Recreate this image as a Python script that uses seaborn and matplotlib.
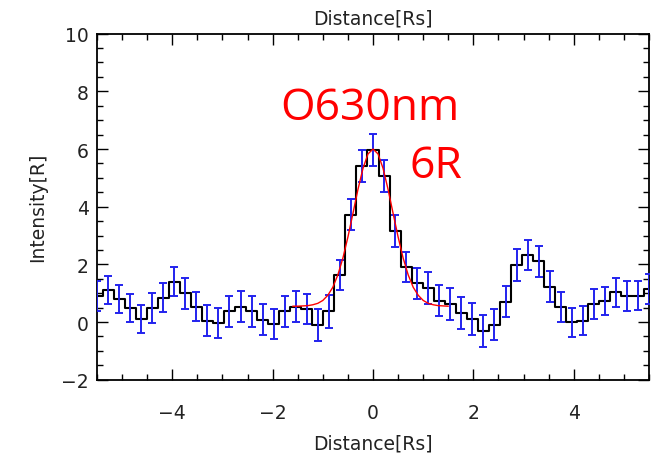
import numpy as np
import pandas as pd
import matplotlib
matplotlib.use("Agg")
import matplotlib.pyplot as plt
import seaborn as sns
from matplotlib.ticker import MultipleLocator

# Bin centres [Rs]
distance = [-5.50, -5.28, -5.06, -4.84, -4.62, -4.40, -4.18, -3.96, -3.74, -3.52,
            -3.30, -3.08, -2.86, -2.64, -2.42, -2.20, -1.98, -1.76, -1.54, -1.32,
            -1.10, -0.88, -0.66, -0.44, -0.22, 0.00, 0.22, 0.44, 0.66, 0.88,
            1.10, 1.32, 1.54, 1.76, 1.98, 2.20, 2.42, 2.64, 2.86, 3.08,
            3.30, 3.52, 3.74, 3.96, 4.18, 4.40, 4.62, 4.84, 5.06, 5.28, 5.50]
# Measured intensity [R]
intensity = [0.90, 1.12, 0.79, 0.48, 0.10, 0.50, 0.85, 1.40, 1.00, 0.54,
             0.05, -0.03, 0.37, 0.54, 0.37, 0.08, -0.07, 0.37, 0.54, 0.46,
             -0.09, 0.37, 1.63, 3.72, 5.40, 5.97, 5.06, 3.15, 1.92, 1.34,
             1.17, 0.74, 0.62, 0.31, 0.10, -0.32, -0.09, 0.71, 1.98, 2.34,
             2.11, 1.23, 0.52, -0.01, 0.05, 0.63, 0.74, 1.03, 0.92, 0.92, 1.15]
# Error (half length) [R]
error = [0.52, 0.49, 0.49, 0.48, 0.49, 0.52, 0.51, 0.50, 0.53, 0.50,
         0.55, 0.53, 0.53, 0.53, 0.53, 0.53, 0.53, 0.53, 0.53, 0.53,
         0.55, 0.56, 0.53, 0.53, 0.56, 0.55, 0.55, 0.55, 0.52, 0.55,
         0.55, 0.53, 0.55, 0.56, 0.55, 0.55, 0.53, 0.55, 0.55, 0.52,
         0.53, 0.53, 0.52, 0.51, 0.51, 0.52, 0.49, 0.51, 0.52, 0.49, 0.51]

# Fitted curve
fit_x = [-1.6, -1.5, -1.4, -1.3, -1.2, -1.1, -1.0, -0.9, -0.8, -0.7, -0.6, -0.5,
         -0.4, -0.3, -0.2, -0.1, 0.0, 0.1, 0.2, 0.3, 0.4, 0.5, 0.6, 0.7, 0.8,
         0.9, 1.0, 1.1, 1.2, 1.3, 1.4, 1.5]
fit_y = [0.55, 0.55, 0.56, 0.57, 0.60, 0.65, 0.75, 0.93, 1.21, 1.64, 2.22, 2.95,
         3.77, 4.60, 5.33, 5.83, 6.00, 5.83, 5.33, 4.60, 3.77, 2.95, 2.22, 1.64, 1.21,
         0.93, 0.75, 0.65, 0.60, 0.57, 0.56, 0.55]

obs = pd.DataFrame({"Distance": distance, "Intensity": intensity, "Error": error})
fit = pd.DataFrame({"Distance": fit_x, "Intensity": fit_y})

sns.set_theme(style="ticks")
plt.rcParams["font.family"] = ["DejaVu Sans"]

fig = plt.figure(figsize=(6.58, 4.56), dpi=100)
ax = fig.add_axes([0.1474, 0.165, 0.839, 0.759])

sns.lineplot(data=obs, x="Distance", y="Intensity", ax=ax, color="black",
             linewidth=1.5, drawstyle="steps-mid", zorder=2)
ax.errorbar(obs["Distance"], obs["Intensity"], yerr=obs["Error"], fmt="none",
            ecolor="#2222ee", elinewidth=1.4, capsize=3, capthick=1.4, zorder=3)
sns.lineplot(data=fit, x="Distance", y="Intensity", ax=ax, color="red",
             linewidth=1.0, zorder=4)

ax.set_xlim(-5.5, 5.5)
ax.set_ylim(-2, 10)
ax.xaxis.set_major_locator(MultipleLocator(2))
ax.xaxis.set_minor_locator(MultipleLocator(0.5))
ax.yaxis.set_major_locator(MultipleLocator(2))
ax.yaxis.set_minor_locator(MultipleLocator(0.5))
ax.tick_params(which="both", direction="in", top=True, right=True,
               labeltop=False, labelright=False, colors="black", width=1.0,
               labelcolor="#222222")
ax.tick_params(which="major", length=8, labelsize=13.5)
ax.tick_params(axis="x", which="major", pad=17)
ax.tick_params(axis="y", which="major", pad=6)
ax.tick_params(which="minor", length=4)
for sp in ax.spines.values():
    sp.set_visible(True)
    sp.set_linewidth(1.3)
    sp.set_color("black")

ax.set_xlabel("Distance[Rs]", fontsize=13.5, labelpad=8, color="#222222")
ax.set_ylabel("Intensity[R]", fontsize=13.5, labelpad=10, color="#222222")
secax = ax.secondary_xaxis("top")
secax.set_xlabel("Distance[Rs]", fontsize=13.5, labelpad=7, color="#222222")
secax.tick_params(which="both", length=0, labeltop=False)
secax.spines["top"].set_visible(False)

ax.text(-1.84, 7.03, "O630nm", color="red", fontsize=32,
        family=["Open Sans", "DejaVu Sans"], ha="left", va="baseline")
ax.text(0.72, 5.03, "6R", color="red", fontsize=32,
        family=["Open Sans", "DejaVu Sans"], ha="left", va="baseline")

fig.savefig("out.png", dpi=100)
